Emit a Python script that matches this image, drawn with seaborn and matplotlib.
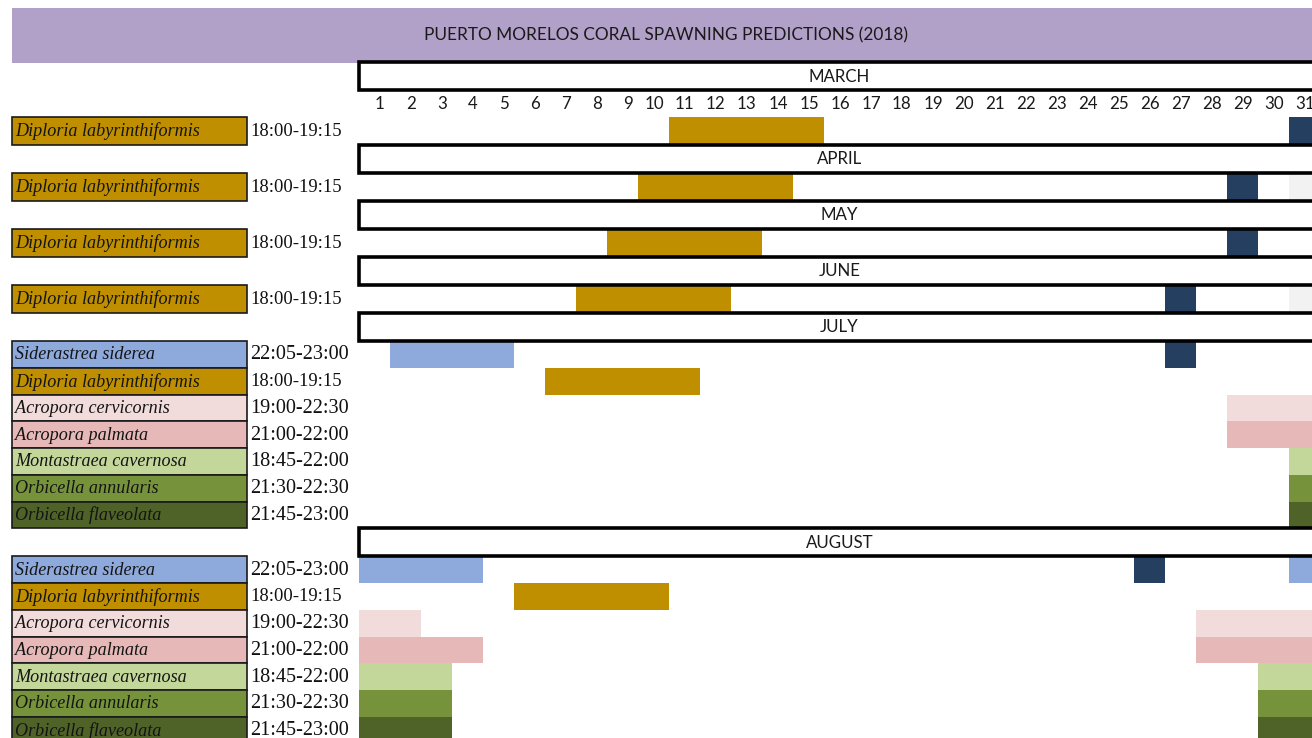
import matplotlib
matplotlib.use("Agg")
import matplotlib.pyplot as plt
from matplotlib.patches import Rectangle
import seaborn as sns
import pandas as pd

# ---------------- data ----------------
title = "PUERTO MORELOS CORAL SPAWNING PREDICTIONS (2018)"
months = ["MARCH", "APRIL", "MAY", "JUNE", "JULY", "AUGUST"]
month_length = [31, 30, 31, 30, 31, 31]
full_moon_day = [31, 29, 29, 27, 27, 26]
days = list(range(1, 32))

species = ["Siderastrea siderea", "Diploria labyrinthiformis", "Acropora cervicornis",
           "Acropora palmata", "Montastraea cavernosa", "Orbicella annularis",
           "Orbicella flaveolata"]
spawn_times = ["22:05-23:00", "18:00-19:15", "19:00-22:30", "21:00-22:00",
               "18:45-22:00", "21:30-22:30", "21:45-23:00"]
species_colors = ["#8EA9DB", "#BF8F00", "#F2DCDB", "#E6B8B7",
                  "#C4D79B", "#76933C", "#4F6228"]

block_species = [
    ["Diploria labyrinthiformis"],
    ["Diploria labyrinthiformis"],
    ["Diploria labyrinthiformis"],
    ["Diploria labyrinthiformis"],
    species,
    species,
]

win_month = (["MARCH", "APRIL", "MAY", "JUNE"] + ["JULY"] * 7 + ["AUGUST"] * 13)
win_species = ["Diploria labyrinthiformis"] * 4 + [
    "Siderastrea siderea", "Diploria labyrinthiformis", "Acropora cervicornis",
    "Acropora palmata", "Montastraea cavernosa", "Orbicella annularis",
    "Orbicella flaveolata",
    "Siderastrea siderea", "Siderastrea siderea", "Diploria labyrinthiformis",
    "Acropora cervicornis", "Acropora cervicornis", "Acropora palmata",
    "Acropora palmata", "Montastraea cavernosa", "Montastraea cavernosa",
    "Orbicella annularis", "Orbicella annularis", "Orbicella flaveolata",
    "Orbicella flaveolata"]
win_start = [11, 10, 9, 8,
             2, 7, 29, 29, 31, 31, 31,
             1, 31, 6, 1, 28, 1, 28, 1, 30, 1, 30, 1, 30]
win_end = [15, 14, 13, 12,
           5, 11, 31, 31, 31, 31, 31,
           4, 31, 10, 2, 31, 4, 31, 3, 31, 3, 31, 3, 31]

# ---------------- style ----------------
sns.set_theme(style="white")
plt.rcParams["font.family"] = ["Lato", "DejaVu Sans"]

MOON = "#243F60"
GREY = "#F2F2F2"
TITLE_BG = "#B1A0C7"
col_of = dict(zip(species, species_colors))
time_of = dict(zip(species, spawn_times))

W, H = 1312, 738
fig = plt.figure(figsize=(W / 100, H / 100), dpi=100)
ax = fig.add_axes([0, 0, 1, 1])
PX0, DAYW = 359, 31.0
ax.set_xlim(-PX0 / DAYW, (W - PX0) / DAYW)
ax.set_ylim(H, 0)
ax.axis("off")

def px(v):
    return (v - PX0) / DAYW

LBL_L, LBL_R, TIME_X = px(12), px(247), px(250)

# title band
ax.add_patch(Rectangle((LBL_L, 8), 31 - LBL_L, 55, facecolor=TITLE_BG, edgecolor="none", zorder=1))
ax.text(px(666), 35, title, ha="center", va="center", fontsize=12.4, color="#1a1a1a", zorder=5)

df = pd.DataFrame({"month": win_month, "species": win_species,
                   "start": win_start, "end": win_end})

y = 62.0
HDR_H = 28.0
for mi, month in enumerate(months):
    sp_list = block_species[mi]
    # header
    ax.add_patch(Rectangle((0, y), 32, HDR_H, facecolor="white", edgecolor="black",
                           linewidth=2.6, zorder=4))
    ax.text(15.5, y + HDR_H / 2 + 0.5, month, ha="center", va="center",
            fontsize=12.2, color="#1a1a1a", zorder=5)
    y += HDR_H
    if mi == 0:
        for d in days:
            ax.text(d - 0.17, y + 14.0, str(d), ha="right", va="center",
                    fontsize=12.2, color="#1a1a1a", zorder=5)
        y += 27.0
    rh = 28.0 if len(sp_list) == 1 else 26.75
    for si, sp in enumerate(sp_list):
        yc = y + rh / 2
        # label box
        ax.barh(yc, LBL_R - LBL_L, left=LBL_L, height=rh, color=col_of[sp],
                edgecolor="#1a1a1a", linewidth=1.2, zorder=2)
        ax.text(px(15), yc + 0.5, sp, ha="left", va="center", fontsize=13.1,
                fontstyle="italic", family=["Liberation Serif"], color="#141414", zorder=5)
        ax.text(TIME_X, yc + 0.5, time_of[sp], ha="left", va="center",
                fontsize=14.6 if sp != "Diploria labyrinthiformis" else 13.4,
                family=["Liberation Serif"], color="#111111", zorder=5)
        # spawning windows
        sub = df[(df.month == month) & (df.species == sp)]
        for _, r in sub.iterrows():
            ax.barh(yc, r.end - r.start + 1, left=r.start - 1, height=rh,
                    color=col_of[sp], linewidth=0, zorder=2)
        if si == 0:
            fm = full_moon_day[mi]
            ax.barh(yc, 1, left=fm - 1, height=rh, color=MOON, linewidth=0, zorder=2)
            if month_length[mi] < 31:
                ax.barh(yc, 1, left=30, height=rh, color=GREY, linewidth=0, zorder=2)
        y += rh

fig.savefig("out.png", dpi=100)
